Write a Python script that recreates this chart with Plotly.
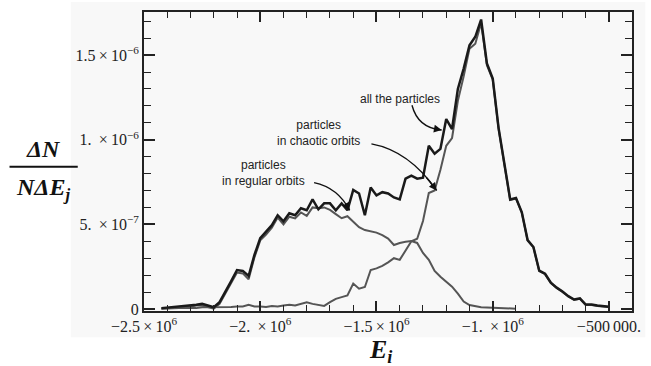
import numpy as np
import plotly.graph_objects as go

# ---------------- data (values in units of 1e-7) ----------------
SCALE = 1e-7
E_ALL = np.arange(-2425000, -500000 + 1, 25000)          # bin centres (78)
ALL_PARTICLES = [
    0.05, 0.08, 0.10, 0.12, 0.15, 0.20, 0.25, 0.30, 0.20, 0.10,
    0.40, 1.00, 1.65, 2.30, 2.25, 1.95, 3.19, 4.19, 4.54, 4.95,
    5.54, 5.18, 5.65, 5.54, 5.95, 5.83, 6.47, 5.89, 6.24, 6.24,
    5.83, 6.24, 5.83, 7.03, 6.82, 5.54, 7.18, 6.71, 6.90, 6.82,
    6.59, 6.47, 7.70, 7.88, 7.70, 7.76, 9.64, 9.17, 9.46, 11.22,
    10.63, 13.00, 14.20, 15.58, 16.08, 17.10, 14.50, 13.62, 10.70, 8.64,
    6.47, 6.56, 5.71, 4.07, 3.66, 2.26, 2.08, 1.55, 1.26, 1.03,
    0.76, 0.56, 0.62, 0.26, 0.26, 0.20, 0.18, 0.13,
]
CHAOTIC = [
    0.02, 0.04, 0.05, 0.05, 0.05, 0.05, 0.05, 0.10, 0.10, 0.10,
    0.10, 0.10, 0.12, 0.15, 0.15, 0.25, 0.15, 0.15, 0.12, 0.18,
    0.15, 0.20, 0.25, 0.20, 0.30, 0.40, 0.30, 0.25, 0.18, 0.40,
    0.60, 0.70, 0.80, 1.50, 1.20, 1.30, 2.30, 2.40, 2.55, 2.75,
    3.00, 2.90, 3.45, 4.00, 4.15, 5.20, 6.85, 7.00, 8.23, 9.64,
    10.10, 12.30, 13.74, 15.38, 15.67, 16.90, 14.40, 13.55, 10.65, 8.60,
    6.44, 6.53, 5.69, 4.05, 3.64, 2.24, 2.06, 1.53, 1.24, 1.01,
    0.74, 0.54, 0.60, 0.24, 0.24, 0.18, 0.16, 0.11,
]
E_REG = E_ALL[:62]
REGULAR = [
    0.03, 0.04, 0.05, 0.07, 0.10, 0.15, 0.20, 0.20, 0.10, 0.02,
    0.30, 0.90, 1.50, 2.15, 2.10, 1.75, 3.05, 4.05, 4.40, 4.80,
    5.40, 5.00, 5.45, 5.35, 5.70, 5.50, 6.00, 5.95, 6.00, 5.85,
    5.60, 5.36, 5.48, 5.13, 4.83, 4.66, 4.60, 4.51, 4.36, 4.16,
    3.78, 3.90, 3.97, 4.01, 3.90, 3.31, 2.90, 2.25, 1.90, 1.61,
    1.32, 0.91, 0.44, 0.23, 0.15, 0.10, 0.08, 0.06, 0.05, 0.04,
    0.03, 0.02,
]

X_TICKVALS = [-2500000, -2000000, -1500000, -1000000, -500000]
X_TICKTEXT = ["\u22122.5\u2009\u00d7\u200910<sup>6</sup>", "\u22122. \u2009\u00d7\u200910<sup>6</sup>",
              "\u22121.5\u2009\u00d7\u200910<sup>6</sup>", "\u22121. \u2009\u00d7\u200910<sup>6</sup>",
              "\u2212500\u2009000."]
Y_TICKVALS = [0, 5e-7, 1e-6, 1.5e-6]
Y_TICKTEXT = ["0", "5. \u2009\u00d7\u200910<sup>\u22127</sup>", "1. \u2009\u00d7\u200910<sup>\u22126</sup>",
              "1.5\u2009\u00d7\u200910<sup>\u22126</sup>"]

# ---------------- figure ----------------
W, H = 651, 366
ML, MR, MT, MB = 144, 13.5, 10, 54.5
XR = [-2500000, -401000]
YR = [-0.012e-6, 1.7545e-6]
PW, PH = W - ML - MR, H - MT - MB


def px(xp):  # pixel x -> data x
    return XR[0] + (xp - ML) / PW * (XR[1] - XR[0])


def py(yp):  # pixel y -> data y
    return YR[1] - (yp - MT) / PH * (YR[1] - YR[0])


def ppx(xp):  # pixel x -> paper x
    return (xp - ML) / PW


def ppy(yp):  # pixel y -> paper y
    return (H - MB - yp) / PH


fig = go.Figure()
fig.add_trace(go.Scatter(x=E_REG, y=np.array(REGULAR) * SCALE, mode="lines",
                         line=dict(color="#555555", width=2), showlegend=False))
fig.add_trace(go.Scatter(x=E_ALL, y=np.array(CHAOTIC) * SCALE, mode="lines",
                         line=dict(color="#555555", width=2), showlegend=False))
fig.add_trace(go.Scatter(x=E_ALL, y=np.array(ALL_PARTICLES) * SCALE, mode="lines",
                         line=dict(color="#1a1a1a", width=2.5), showlegend=False))

tickfont = dict(family="Liberation Serif", size=16, color="#222222")
fig.update_xaxes(range=XR, tickvals=X_TICKVALS, ticktext=X_TICKTEXT, ticks="inside",
                 ticklen=10, tickwidth=1.5, tickcolor="#222", showline=True, linecolor="#222",
                 linewidth=2, mirror="ticks", showgrid=False, zeroline=False, tickfont=tickfont,
                 minor=dict(dtick=100000, tick0=0, ticks="inside", ticklen=6, tickwidth=1,
                            tickcolor="#222", showgrid=False))
fig.update_yaxes(range=YR, tickvals=Y_TICKVALS, ticktext=Y_TICKTEXT, ticks="inside",
                 ticklen=11, tickwidth=1.5, tickcolor="#222", showline=True, linecolor="#222",
                 linewidth=2, mirror="ticks", showgrid=False, zeroline=False, tickfont=tickfont,
                 ticklabelstandoff=0,
                 minor=dict(dtick=1e-7, tick0=0, ticks="inside", ticklen=7, tickwidth=1,
                            tickcolor="#222", showgrid=False))

shapes = [dict(type="rect", xref="paper", yref="paper", x0=ppx(70), x1=ppx(W), y0=ppy(338),
               y1=ppy(0), fillcolor="#f8f8f8", line=dict(width=0), layer="below"),
          dict(type="line", xref="paper", yref="paper", x0=ppx(8), x1=ppx(77), y0=ppy(166),
               y1=ppy(166), line=dict(color="#111", width=2))]

annotations = []
lab_font = dict(family="Liberation Sans", size=12, color="#222222")
texts = [("all the particles", 403, 98),
         ("particles<br>in chaotic orbits", 320, 132),
         ("particles<br>in regular orbits", 265, 172)]
for t, xp, yp in texts:
    annotations.append(dict(x=px(xp), y=py(yp), xref="x", yref="y", text=t, showarrow=False,
                            font=lab_font, align="center", xanchor="center", yanchor="middle"))

arrows = [((415, 104), (421, 127), (445, 129)),
          ((374, 143), (412, 150), (440, 190)),
          ((316, 182), (340, 187), (352, 210))]
for p0, p1, p2 in arrows:
    d = [(px(a), py(b)) for a, b in (p0, p1, p2)]
    path = "M {:.1f},{:.12f} Q {:.1f},{:.12f} {:.1f},{:.12f}".format(
        d[0][0], d[0][1], d[1][0], d[1][1], d[2][0], d[2][1])
    shapes.append(dict(type="path", xref="x", yref="y", path=path,
                       line=dict(color="#111", width=1.4)))
    t = 0.8
    bx = (1 - t) ** 2 * p0[0] + 2 * t * (1 - t) * p1[0] + t * t * p2[0]
    by = (1 - t) ** 2 * p0[1] + 2 * t * (1 - t) * p1[1] + t * t * p2[1]
    annotations.append(dict(x=px(p2[0]), y=py(p2[1]), ax=px(bx), ay=py(by), xref="x", yref="y",
                            axref="x", ayref="y", text="", showarrow=True, arrowhead=2,
                            arrowsize=1.1, arrowwidth=1.4, arrowcolor="#111"))

title_font = dict(family="Liberation Serif", size=24, color="#111111")
annotations.append(dict(x=ppx(42), y=ppy(148), xref="paper", yref="paper",
                        text="<b><i>\u0394N</i></b>", showarrow=False, font=title_font,
                        xanchor="center", yanchor="middle"))
annotations.append(dict(x=ppx(42), y=ppy(188), xref="paper", yref="paper",
                        text="<b><i>N\u0394E<sub>j</sub></i></b>", showarrow=False, font=title_font,
                        xanchor="center", yanchor="middle"))
annotations.append(dict(x=ppx(383), y=ppy(352), xref="paper", yref="paper",
                        text="<b><i>E<sub>i</sub></i></b>", showarrow=False,
                        font=dict(family="Liberation Serif", size=26, color="#111111"),
                        xanchor="center", yanchor="middle"))

fig.update_layout(width=W, height=H, margin=dict(l=ML, r=MR, t=MT, b=MB),
                  paper_bgcolor="white", plot_bgcolor="rgba(0,0,0,0)",
                  shapes=shapes, annotations=annotations, showlegend=False)

fig.write_html("out.html")
